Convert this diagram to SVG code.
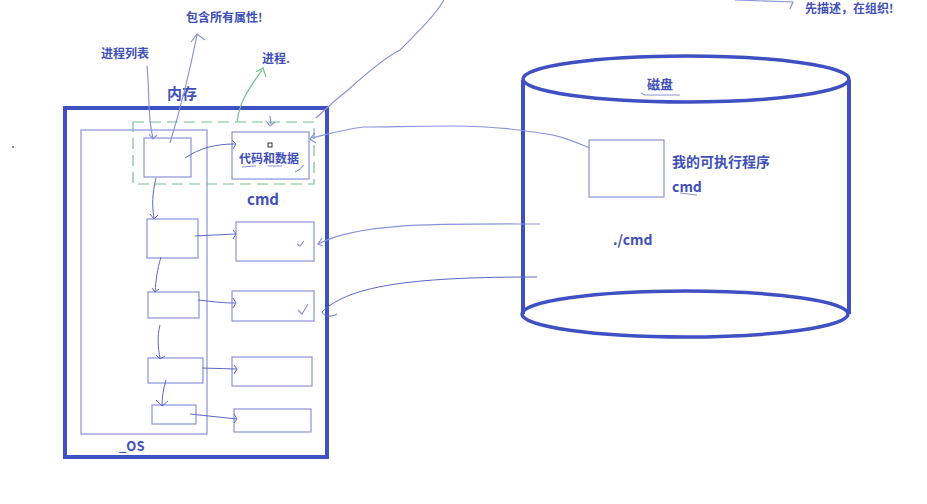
<svg xmlns="http://www.w3.org/2000/svg" width="927" height="504" viewBox="0 0 927 504">
<style>
.t{font-family:"Noto Sans CJK SC","Liberation Sans",sans-serif;font-weight:bold;fill:#4150b8}
.thin{fill:none;stroke:#8a93d9;stroke-width:1.2}
.ln{fill:none;stroke:#5c67c4;stroke-width:1}
.heavy{fill:none;stroke:#3f51c2;stroke-width:4}
</style>
<rect width="927" height="504" fill="#fff"/>
<g id="memory">
<rect class="heavy" x="65" y="108" width="262" height="349"/>
<text class="t" x="167" y="99" font-size="15">内存</text>
</g>
<g id="os">
<rect class="thin" x="81" y="130" width="126" height="304"/>
<text class="t" x="119" y="451" font-size="13">_OS</text>
</g>
<g id="process">
<rect x="133" y="122" width="181" height="62" fill="none" stroke="#74c08f" stroke-width="1.2" stroke-dasharray="11,6"/>
</g>
<g id="pcb1"><rect class="thin" x="144" y="138" width="47" height="39"/></g>
<g id="code">
<rect class="thin" x="232" y="132" width="77" height="47"/>
<text class="t" x="239" y="163" font-size="12">代码和数据</text>
<rect x="268" y="143" width="4" height="4" fill="none" stroke="#333" stroke-width="1"/>
<path class="thin" d="M242,167 L256,166 M268,166 L282,166 M295,172 Q300,170 304,165"/>
</g>
<g id="pcb2"><rect class="thin" x="147" y="219" width="51" height="39"/></g>
<g id="cmd1">
<rect class="thin" x="236" y="222" width="78" height="39"/>
<path class="thin" d="M297,244 L300,246 L304,241"/>
</g>
<g id="pcb3"><rect class="thin" x="148" y="292" width="51" height="26"/></g>
<g id="cmd2">
<rect class="thin" x="232" y="291" width="82" height="30"/>
<path class="thin" d="M298,310 L302,314 L308,304"/>
</g>
<g id="pcb4"><rect class="thin" x="148" y="358" width="55" height="25"/></g>
<g id="m4"><rect class="thin" x="232" y="357" width="80" height="29"/></g>
<g id="pcb5"><rect class="thin" x="152" y="405" width="44" height="19"/></g>
<g id="m5"><rect class="thin" x="234" y="409" width="77" height="23"/></g>
<g id="labels">
<text class="t" x="101" y="58" font-size="12">进程列表</text>
<text class="t" x="186" y="22" font-size="12">包含所有属性!</text>
<text class="t" x="262" y="63" font-size="12">进程.</text>
<text class="t" x="247" y="205" font-size="15">cmd</text>
<text class="t" x="805" y="13" font-size="12">先描述，在组织!</text>
</g>
<g id="disk">
<path class="heavy" d="M523,80 L523,314 M849,80 L849,314" stroke-width="3.5"/>
<ellipse cx="686" cy="79" rx="163" ry="23" fill="none" stroke="#3f51c2" stroke-width="3.5"/>
<ellipse cx="685" cy="314" rx="163" ry="23" fill="none" stroke="#3f51c2" stroke-width="3.5"/>
<text class="t" x="647" y="89" font-size="13">磁盘</text>
<path class="thin" d="M641,93 L645,95 L680,95"/>
</g>
<g id="exe">
<rect class="thin" x="589" y="140" width="75" height="57"/>
<text class="t" x="672" y="167" font-size="14">我的可执行程序</text>
<text class="t" x="672" y="192" font-size="14">cmd</text>
<path class="thin" d="M680,193 L697,195"/>
</g>
<g id="runcmd"><text class="t" x="613" y="245" font-size="14">./cmd</text></g>
<g id="connectors">
<path class="thin" d="M147,66 C150,95 147,115 153,138 M149,134 L153,139 L157,135"/>
<path class="thin" d="M170,143 C180,110 188,80 197,35 M191,42 L197,34 L205,40"/>
<path d="M237,122 C240,100 248,90 262,70 M256,72 L263,68 L266,77" fill="none" stroke="#74c08f" stroke-width="1.2"/>
<path class="ln" d="M185,158 C200,148 215,144 235,144 M232,140 L236,144 L233,149"/>
<path class="thin" d="M270,116 L271,124 M266,121 L270,126 L275,122"/>
<path class="thin" d="M316,118 C330,105 340,96 348,90 C370,70 390,55 400,50 C420,30 435,15 444,0"/>
<path class="thin" d="M590,148 C570,140 560,135 540,133 C510,128 480,126 452,126 C410,126 390,127 364,127 C340,130 325,135 312,138 M315,133 L310,139 L316,143"/>
<path class="thin" d="M735,0 L793,2 L790,9"/>
<path class="ln" d="M156,178 C152,195 152,205 154,218 M150,214 L154,219 L158,215"/>
<path class="ln" d="M195,236 L235,234 M233,230 L236,234 L233,239"/>
<path class="ln" d="M161,257 C157,270 156,280 155,292 M152,288 L155,292 L159,289"/>
<path class="ln" d="M198,300 C215,302 225,303 235,303 M233,298 L236,303 L233,308"/>
<path class="ln" d="M160,325 C157,337 158,348 160,358 M156,355 L160,359 L165,356"/>
<path class="ln" d="M202,368 L236,369 M234,365 L237,369 L234,374"/>
<path class="ln" d="M166,380 C163,390 162,398 162,406 M156,400 L162,406 L168,401"/>
<path class="ln" d="M190,414 L237,419 M234,414 L237,419 L234,423"/>
<path class="thin" d="M540,224 C440,224 360,222 318,244 M322,238 L318,244 L323,246"/>
<path class="ln" d="M537,277 C420,277 350,284 322,312 C323,316 330,318 337,314"/>
</g>
<rect x="12" y="146" width="2" height="2" fill="#8a93d9"/>
</svg>
